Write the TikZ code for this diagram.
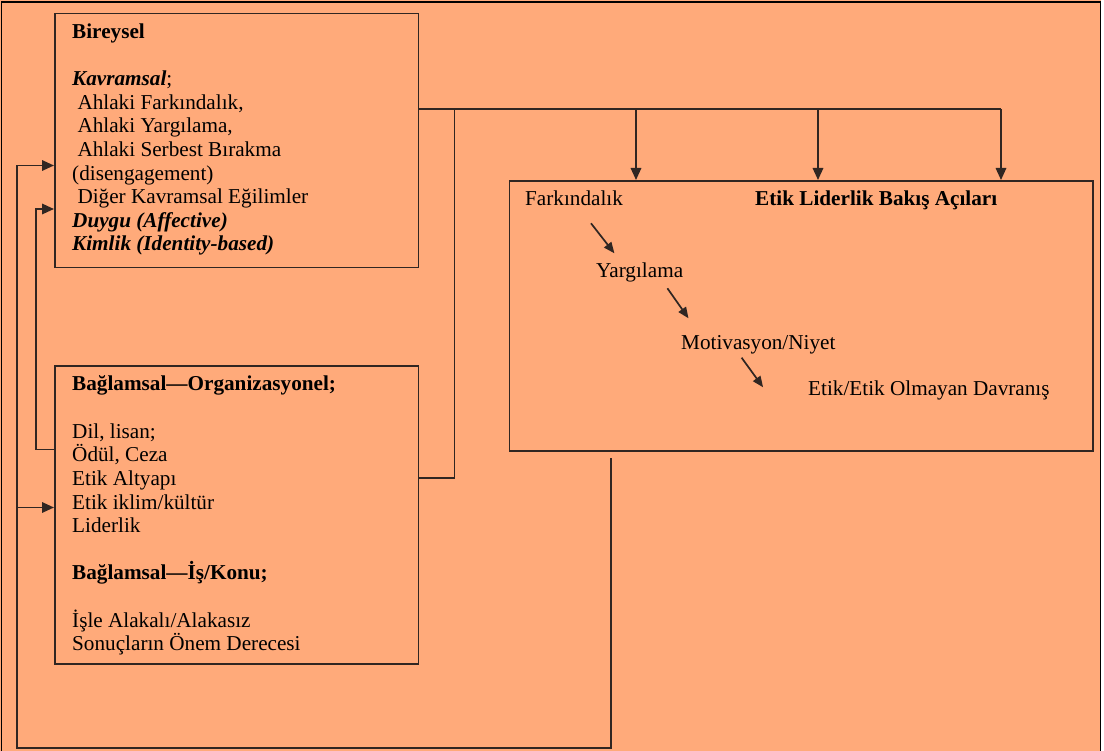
\documentclass[tikz,border=0pt]{standalone}
\usepackage{fontspec}
\setmainfont{Liberation Serif}
\usetikzlibrary{arrows.meta}
\definecolor{salmonbg}{RGB}{255,170,122}
\definecolor{inkline}{RGB}{48,38,34}
\newcommand\bodysize{\fontsize{21.2}{23.6}\selectfont}

\begin{document}
\begin{tikzpicture}[x=1pt,y=-1pt,
  panel/.style={draw=inkline, line width=1.8pt, anchor=north west, inner sep=0pt},
  txt/.style={anchor=base west, inner sep=0pt, font=\bodysize, text=black},
  wire/.style={draw=inkline, line width=1.7pt},
  arr/.style={wire, -{Triangle[length=12pt,width=10.5pt]}},
  smallarr/.style={wire, -{Triangle[length=11pt,width=9pt]}},
]
% page and frame
\useasboundingbox (0,0) rectangle (1104,751);
\fill[white] (0,0) rectangle (1104,751);
\fill[salmonbg] (0,0) rectangle (1100.5,751);
\draw[black, line width=1.8pt] (1.5,751) -- (1.5,2) -- (1100.5,2) -- (1100.5,751);

% the three panels
\node[panel, minimum width=363.5pt, minimum height=254pt] (bir) at (54,12.7) {};
\node[panel, minimum width=363.5pt, minimum height=297.7pt] (bag) at (54,365) {};
\node[panel, minimum width=583.5pt, minimum height=270pt] (etik) at (508.5,180) {};

% individual factors
\node[txt] (b1) at (72,38.5) {\textbf{Bireysel}};
\node[txt] (b2) at (72,85.7) {{\bfseries\itshape Kavramsal};};
\node[txt] (b3) at (77.3,109.3) {Ahlaki Farkındalık,};
\node[txt] (b4) at (77.3,132.9) {Ahlaki Yargılama,};
\node[txt] (b5) at (77.3,156.5) {Ahlaki Serbest Bırakma};
\node[txt] (b6) at (72,180.1) {(disengagement)};
\node[txt] (b7) at (77.3,203.7) {Diğer Kavramsal Eğilimler};
\node[txt] (b8) at (72,227.3) {\bfseries\itshape Duygu (Affective)};
\node[txt] (b9) at (72,250.9) {\bfseries\itshape Kimlik (Identity-based)};

% contextual factors
\node[txt] (c1) at (72,391) {\textbf{Bağlamsal—Organizasyonel;}};
\node[txt] (c2) at (72,438.2) {Dil, lisan;};
\node[txt] (c3) at (72,461.8) {Ödül, Ceza};
\node[txt] (c4) at (72,485.4) {Etik Altyapı};
\node[txt] (c5) at (72,509) {Etik iklim/kültür};
\node[txt] (c6) at (72,532.6) {Liderlik};
\node[txt] (c7) at (72,579.8) {\textbf{Bağlamsal—İş/Konu;}};
\node[txt] (c8) at (72,627) {İşle Alakalı/Alakasız};
\node[txt] (c9) at (72,650.6) {Sonuçların Önem Derecesi};

% ethical leadership perspectives
\node[txt] (e1) at (525,206) {Farkındalık};
\node[txt] (e0) at (755,206) {\textbf{Etik Liderlik Bakış Açıları}};
\node[txt] (e2) at (596,278) {Yargılama};
\node[txt] (e3) at (681,350) {Motivasyon/Niyet};
\node[txt] (e4) at (808,396) {Etik/Etik Olmayan Davranış};

% step arrows inside the right panel
\coordinate (s1a) at (591,223.3);  \coordinate (s1b) at (614.4,253.3);
\coordinate (s2a) at (667.4,288.3); \coordinate (s2b) at (688.5,318.3);
\coordinate (s3a) at (741.6,357.7); \coordinate (s3b) at (763.1,387.3);
\draw[smallarr] (s1a) -- (s1b);
\draw[smallarr] (s2a) -- (s2b);
\draw[smallarr] (s3a) -- (s3b);

% junction points of the wiring
\coordinate (jv) at (454.5,109);
\coordinate (jr) at (1001,109);
\coordinate (d1) at (636,109);
\coordinate (d2) at (818,109);
\coordinate (jlow) at (454.5,478);
\coordinate (fbtop) at (611,458);
\coordinate (fbbot) at (611,748);
\coordinate (fbcorner) at (17,748);
\coordinate (fbup) at (17,165.5);
\coordinate (fbmid) at (17,507.5);
\coordinate (inA) at (35.7,449.5);
\coordinate (inB) at (35.7,209);

% outputs of both panels into the right panel
\draw[wire] (bir.east |- jv) -- (jr);
\draw[wire] (bag.east |- jlow) -- (jlow) -- (jv);
\draw[arr] (d1) -- (d1 |- etik.north);
\draw[arr] (d2) -- (d2 |- etik.north);
\draw[arr] (jr) -- (jr |- etik.north);

% feedback loop from the right panel
\draw[arr] (fbtop) -- (fbbot) -- (fbcorner) -- (fbup) -- (bir.west |- fbup);
\draw[arr] (fbmid) -- (bag.west |- fbmid);

% context back to the individual panel
\draw[arr] (bag.west |- inA) -- (inA) -- (inB) -- (bir.west |- inB);
\end{tikzpicture}
\end{document}
